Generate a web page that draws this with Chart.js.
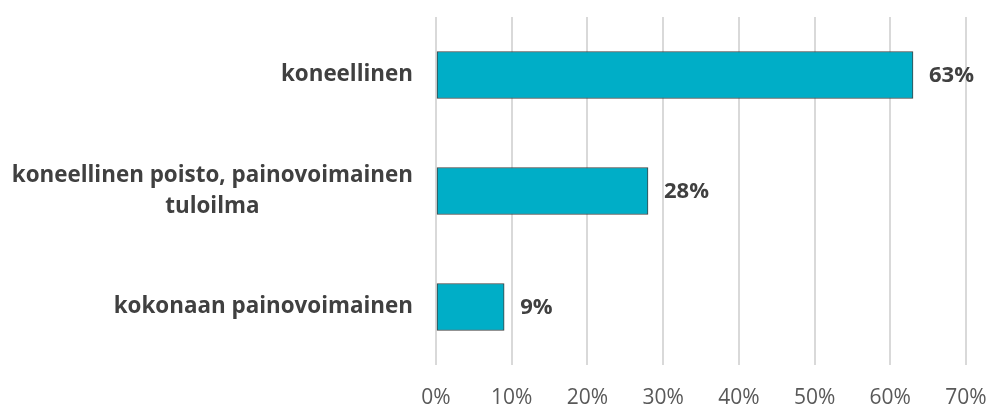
<!DOCTYPE html>
<html>
<head>
<meta charset="utf-8">
<script src="https://cdn.jsdelivr.net/npm/chart.js@4/dist/chart.umd.min.js"></script>
<style>
html,body{margin:0;padding:0;background:#fff;}
#wrap{width:992px;height:410px;position:relative;}
</style>
</head>
<body>
<div id="wrap"><canvas id="c" width="992" height="410"></canvas></div>
<script>
const categories = [
  "koneellinen",
  ["koneellinen poisto, painovoimainen", "tuloilma"],
  "kokonaan painovoimainen"
];
const shares = [63, 28, 9];
const tickValues = [0, 10, 20, 30, 40, 50, 60, 70];

const FONT = "'Open Sans', 'Noto Sans', sans-serif";

// Data value labels at bar ends
const dataLabels = {
  id: 'dataLabels',
  afterDatasetsDraw(chart) {
    const ctx = chart.ctx;
    const meta = chart.getDatasetMeta(0);
    ctx.save();
    ctx.font = "bold 22px " + FONT;
    ctx.fillStyle = '#404040';
    ctx.textAlign = 'left';
    ctx.textBaseline = 'middle';
    meta.data.forEach((bar, i) => {
      ctx.fillText(shares[i] + '%', bar.x + 16, bar.y + 1);
    });
    ctx.restore();
  }
};

// Category labels: block right-aligned to the axis, lines centered within block
const categoryLabels = {
  id: 'categoryLabels',
  afterDraw(chart) {
    const ctx = chart.ctx;
    const yScale = chart.scales.y;
    const right = chart.chartArea.left - 23;
    const lineH = 31;
    ctx.save();
    ctx.font = "bold 22.4px " + FONT;
    ctx.fillStyle = '#404040';
    ctx.textAlign = 'center';
    ctx.textBaseline = 'middle';
    categories.forEach((lab, i) => {
      const lines = Array.isArray(lab) ? lab : [lab];
      const w = Math.max(...lines.map(l => ctx.measureText(l).width));
      const cx = right - w / 2;
      const cy = yScale.getPixelForValue(i);
      const y0 = cy - (lines.length - 1) * lineH / 2;
      lines.forEach((l, k) => ctx.fillText(l, cx, y0 + k * lineH));
    });
    ctx.restore();
  }
};

new Chart(document.getElementById('c'), {
  type: 'bar',
  data: {
    labels: categories,
    datasets: [{
      data: shares,
      backgroundColor: '#00AEC7',
      borderColor: '#404040',
      borderWidth: 1,
      borderSkipped: false,
      barThickness: 47
    }]
  },
  options: {
    indexAxis: 'y',
    responsive: false,
    animation: false,
    devicePixelRatio: 1,
    layout: { padding: { left: 0, right: 26, top: 17, bottom: 0 } },
    plugins: { legend: { display: false }, tooltip: { enabled: false } },
    scales: {
      x: {
        min: 0, max: 70,
        afterBuildTicks(scale) { scale.ticks = tickValues.map(v => ({ value: v })); },
        afterFit(scale) { scale.height = 45; scale.paddingLeft = 0; scale.paddingRight = 0; },
        grid: { color: '#d9d9d9', lineWidth: 2, drawTicks: false },
        border: { display: false },
        ticks: {
          padding: 20,
          color: '#595959',
          font: { family: FONT, size: 21 },
          callback: v => v + '%'
        }
      },
      y: {
        afterFit(scale) { scale.width = 436; scale.paddingTop = 0; scale.paddingBottom = 0; },
        grid: { display: false, drawTicks: false },
        border: { display: false },
        ticks: { display: false }
      }
    }
  },
  plugins: [dataLabels, categoryLabels]
});
</script>
</body>
</html>
